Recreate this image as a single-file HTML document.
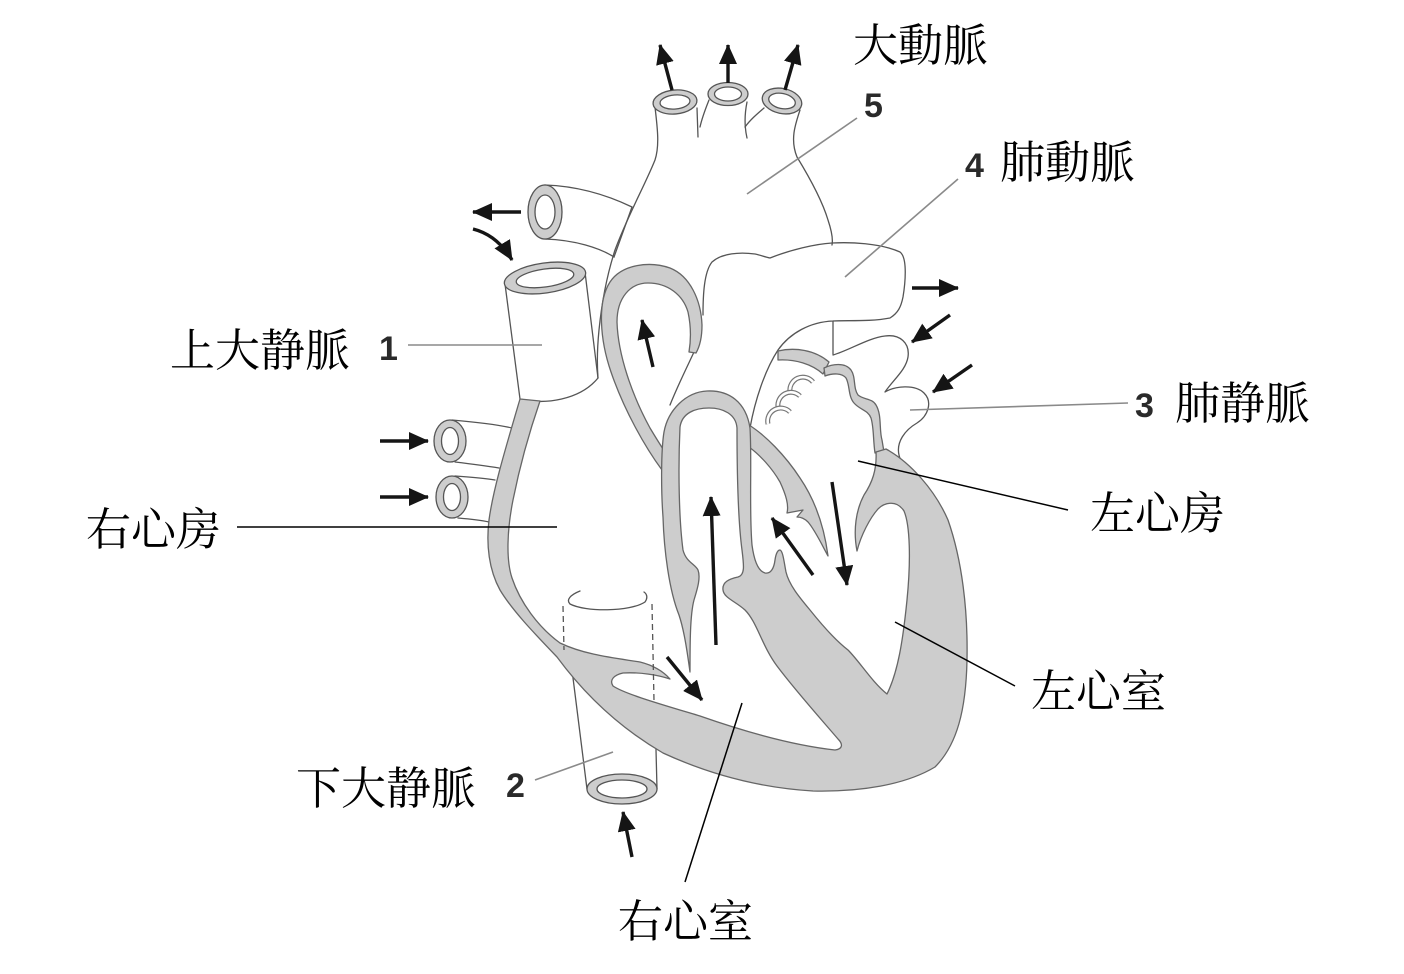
<!DOCTYPE html>
<html>
<head>
<meta charset="utf-8">
<style>
html,body{margin:0;padding:0;background:#fff;}
svg{display:block;}
.jp{font-family:"Liberation Serif","Noto Serif CJK SC","Noto Serif CJK JP",serif;font-size:45px;fill:#000;}
.num{font-family:"Liberation Sans",sans-serif;font-weight:bold;font-size:34px;fill:#2a2a2a;}
.ln{fill:none;stroke:#555;stroke-width:1.3;stroke-linejoin:round;stroke-linecap:round;}
.gr{fill:#cdcdcd;stroke:#666;stroke-width:1.3;stroke-linejoin:round;}
.ring{fill:#cdcdcd;stroke:#555;stroke-width:1.3;}
.hole{fill:#fff;stroke:#555;stroke-width:1.3;}
.arr{fill:none;stroke:#151515;stroke-width:3.4;marker-end:url(#ah);}
.lbk{stroke:#000;stroke-width:1.5;fill:none;}
.lgr{stroke:#8a8a8a;stroke-width:1.6;fill:none;}
</style>
</head>
<body>
<svg width="1404" height="974" viewBox="0 0 1404 974" xmlns="http://www.w3.org/2000/svg">
<defs>
<marker id="ah" viewBox="0 0 20 18" refX="19" refY="9" markerWidth="20" markerHeight="18" markerUnits="userSpaceOnUse" orient="auto">
<path d="M0,0 L20,9 L0,18 Z" fill="#151515"/>
</marker>
</defs>
<rect width="1404" height="974" fill="#fff"/>

<path d="M571,662 L587,789 L657,789 L655,710 Z" fill="#fff" stroke="none"/>
<path class="ln" d="M571,662 L587,789"/>
<path class="ln" d="M655,710 L657,789"/>

<path class="ln" d="M452,420 C475,422 495,424 512,428"/>
<path class="ln" d="M455,462 C472,464 487,466 499,468"/>
<ellipse class="ring" cx="450" cy="441" rx="16" ry="21"/>
<ellipse class="hole" cx="450" cy="441" rx="8.5" ry="13.5"/>
<path class="ln" d="M455,476 C470,477 484,478 495,480"/>
<path class="ln" d="M458,518 C470,519 480,520 489,522"/>
<ellipse class="ring" cx="452" cy="497" rx="16" ry="21"/>
<ellipse class="hole" cx="452" cy="497" rx="8.5" ry="13.5"/>

<path d="M505,284 L520,399 C545,405 580,400 598,378 L585,272 Z" fill="#fff" stroke="#555" stroke-width="1.3"/>
<ellipse class="ring" cx="545" cy="278" rx="41" ry="15" transform="rotate(-8 545 278)"/>
<ellipse class="hole" cx="545" cy="278" rx="29" ry="9" transform="rotate(-8 545 278)"/>

<path d="M545,185 C575,186 605,194 632,207 L614,257 C600,248 575,240 545,239 Z" fill="#fff" stroke="#555" stroke-width="1.3"/>
<ellipse class="ring" cx="545" cy="212" rx="17" ry="27"/>
<ellipse class="hole" cx="545" cy="212" rx="10" ry="17"/>

<path class="ln" d="M655,107 C657,125 660,145 655,160 C645,185 628,215 615,250 C607,275 602,300 599,330 C597,350 597,365 598,378"/>
<path class="ln" d="M697,108 L698,137"/>
<path class="ln" d="M700,127 C702,118 705,110 709,100"/>
<path class="ln" d="M747,102 C745,112 744,125 747,138"/>
<path class="ln" d="M764,108 C757,114 750,120 745,127"/>
<path class="ln" d="M800,110 C795,125 790,140 797,157 C808,175 822,200 828,220 C832,232 833,240 832,245"/>

<path class="ln" d="M832,243 C850,242 880,243 900,252 C908,258 905,285 903,297 C901,307 898,313 890,318 C870,322 845,320 833,321 C810,322 790,333 778,350 C765,370 755,400 750,428"/>
<path class="ln" d="M832,243 C815,244 790,250 770,258 C765,257 760,255 755,254 C740,252 722,253 712,262 C704,272 703,295 703,315"/>
<path class="ln" d="M833,321 L833,354"/>
<path class="ln" d="M694,352 C688,365 678,385 670,405"/>

<path class="ln" d="M833,355 C850,350 868,338 885,336 C900,334 910,343 908,357 C906,370 893,380 885,392 C895,386 915,384 924,393 C933,402 928,416 917,423 C905,430 896,442 899,455 C900,461 905,465 910,468"/>

<path class="gr" d="M662,470 C645,447 624,410 611,372 C600,340 597,302 610,282 C622,264 650,261 670,268 C690,276 701,300 702,325 C702,338 700,346 696,353 L689,352 C691,340 691,326 688,312 C683,295 668,283 648,283 C630,283 617,298 617,322 C618,355 632,395 650,428 C656,438 661,446 665,452 Z"/>

<path class="gr" d="M749,425 C765,435 785,455 800,478 C815,500 824,525 828,556 C822,545 815,530 808,522 C804,518 800,517 797,517 L803,510 L787,513 C789,505 786,495 780,482 C772,468 760,455 749,447 Z"/>

<path class="gr" d="M778,351 C795,347 815,350 829,362 L823,374 C812,364 795,359 778,360 Z"/>
<path class="gr" d="M824,368 C832,364 845,362 851,370 C856,377 853,388 858,395 C864,400 872,398 876,405 C882,415 879,430 882,440 L884,452 L875,453 C873,440 874,428 871,418 C868,410 860,410 854,403 C848,396 850,385 846,378 C842,373 833,373 825,376 Z"/>

<path class="gr" d="M540,401
C530,430 520,465 513,500
C507,530 506,560 512,578
C520,602 538,627 560,643
C585,655 615,658 640,662
C652,665 662,670 670,679
C658,675 640,672 623,673
C614,675 609,680 613,686
C625,694 660,704 700,716
C740,730 790,745 835,750
C843,749 843,744 838,739
C820,718 795,690 777,666
C762,646 757,622 745,610
C735,601 724,598 723,590
C722,582 729,579 738,577
C745,575 744,566 742,550
C738,520 737,470 737,428
C736,414 723,408 709,408
C695,408 682,413 680,427
C678,470 679,520 683,550
C686,562 695,564 698,570
C701,578 697,590 694,600
C690,615 690,645 690,672
C687,650 684,630 679,615
C669,590 664,550 663,517
C661,490 661,450 664,432
C668,410 686,392 707,391
C729,390 746,402 750,428
C752,460 749,510 752,545
C754,560 758,571 765,573
C771,574 774,568 775,560
C776,553 778,550 780,550
C783,551 784,562 786,572
C789,585 800,598 810,610
C822,625 835,640 848,650
C860,662 872,682 887,694
C898,672 903,640 907,600
C911,560 910,525 904,511
C897,500 885,502 878,509
C870,518 861,535 857,551
C853,530 856,510 864,495
C872,483 877,470 876,452
L886,449
C910,462 935,490 948,520
C962,560 968,610 967,660
C966,710 957,745 935,767
C905,785 860,792 813,791
C763,788 713,776 663,753
C620,728 585,695 557,657
C533,632 512,610 500,590
C489,570 486,545 489,520
C493,490 505,450 520,399 Z"/>

<g fill="none" stroke-linecap="butt">
<path d="M790,392 A13 13 0 0 1 813,382" stroke="#777" stroke-width="5"/>
<path d="M790,392 A13 13 0 0 1 813,382" stroke="#fff" stroke-width="2.6"/>
<path d="M778,407 A13 13 0 0 1 800,396" stroke="#777" stroke-width="5"/>
<path d="M778,407 A13 13 0 0 1 800,396" stroke="#fff" stroke-width="2.6"/>
<path d="M768,424 A13 13 0 0 1 790,412" stroke="#777" stroke-width="5"/>
<path d="M768,424 A13 13 0 0 1 790,412" stroke="#fff" stroke-width="2.6"/>
</g>

<ellipse class="ring" cx="622" cy="789" rx="35" ry="15"/>
<ellipse class="hole" cx="622" cy="789" rx="25" ry="9"/>
<path class="ln" d="M580,591 C570,595 566,600 570,604 C585,612 630,612 645,602 C648,598 647,594 644,592"/>
<path d="M563,606 L564,650" stroke="#555" stroke-width="1.3" stroke-dasharray="6,4" fill="none"/>
<path d="M652,604 L654,701" stroke="#555" stroke-width="1.3" stroke-dasharray="6,4" fill="none"/>

<ellipse class="ring" cx="675" cy="102" rx="22" ry="12" transform="rotate(-5 675 102)"/>
<ellipse class="hole" cx="675" cy="102" rx="15" ry="7" transform="rotate(-5 675 102)"/>
<ellipse class="ring" cx="728" cy="94" rx="20" ry="11.5"/>
<ellipse class="hole" cx="728" cy="94" rx="13.5" ry="7"/>
<ellipse class="ring" cx="782" cy="101" rx="20" ry="12.5" transform="rotate(12 782 101)"/>
<ellipse class="hole" cx="782" cy="101" rx="13.5" ry="7.5" transform="rotate(12 782 101)"/>

<line class="lgr" x1="408" y1="345" x2="542" y2="345"/>
<line class="lgr" x1="857" y1="118" x2="747" y2="194"/>
<line class="lgr" x1="958" y1="179" x2="845" y2="277"/>
<line class="lgr" x1="910" y1="410" x2="1128" y2="403"/>
<line class="lgr" x1="535" y1="780" x2="613" y2="752"/>
<line class="lbk" x1="237" y1="527" x2="557" y2="527"/>
<line class="lbk" x1="858" y1="461" x2="1068" y2="510"/>
<line class="lbk" x1="895" y1="622" x2="1015" y2="686"/>
<line class="lbk" x1="742" y1="703" x2="685" y2="882"/>

<path class="arr" d="M672,90 L660,45"/>
<path class="arr" d="M728,83 L728,45"/>
<path class="arr" d="M785,90 L798,45"/>
<path class="arr" d="M521,212 L473,212"/>
<path class="arr" d="M473,229 Q497,235 512,260"/>
<path class="arr" d="M380,441 L428,441"/>
<path class="arr" d="M380,497 L428,497"/>
<path class="arr" d="M912,288 L958,288"/>
<path class="arr" d="M950,315 L912,342"/>
<path class="arr" d="M972,365 L933,392"/>
<path class="arr" d="M632,857 L623,812"/>
<path class="arr" d="M653,367 L642,320"/>
<path class="arr" d="M716,645 L711,497"/>
<path class="arr" d="M813,575 L772,518"/>
<path class="arr" d="M832,482 L847,585"/>
<path class="arr" d="M667,657 L702,700"/>

<text class="jp" x="853" y="61">大動脈</text>
<text class="num" x="864" y="117">5</text>
<text class="num" x="965" y="177">4</text>
<text class="jp" x="1000" y="178">肺動脈</text>
<text class="jp" x="170" y="366">上大静脈</text>
<text class="num" x="379" y="360">1</text>
<text class="num" x="1135" y="417">3</text>
<text class="jp" x="1175" y="419">肺静脈</text>
<text class="jp" x="86" y="545">右心房</text>
<text class="jp" x="1090" y="529">左心房</text>
<text class="jp" x="1031" y="707">左心室</text>
<text class="jp" x="296" y="804">下大静脈</text>
<text class="num" x="506" y="797">2</text>
<text class="jp" x="618" y="937">右心室</text>
</svg>
</body>
</html>
